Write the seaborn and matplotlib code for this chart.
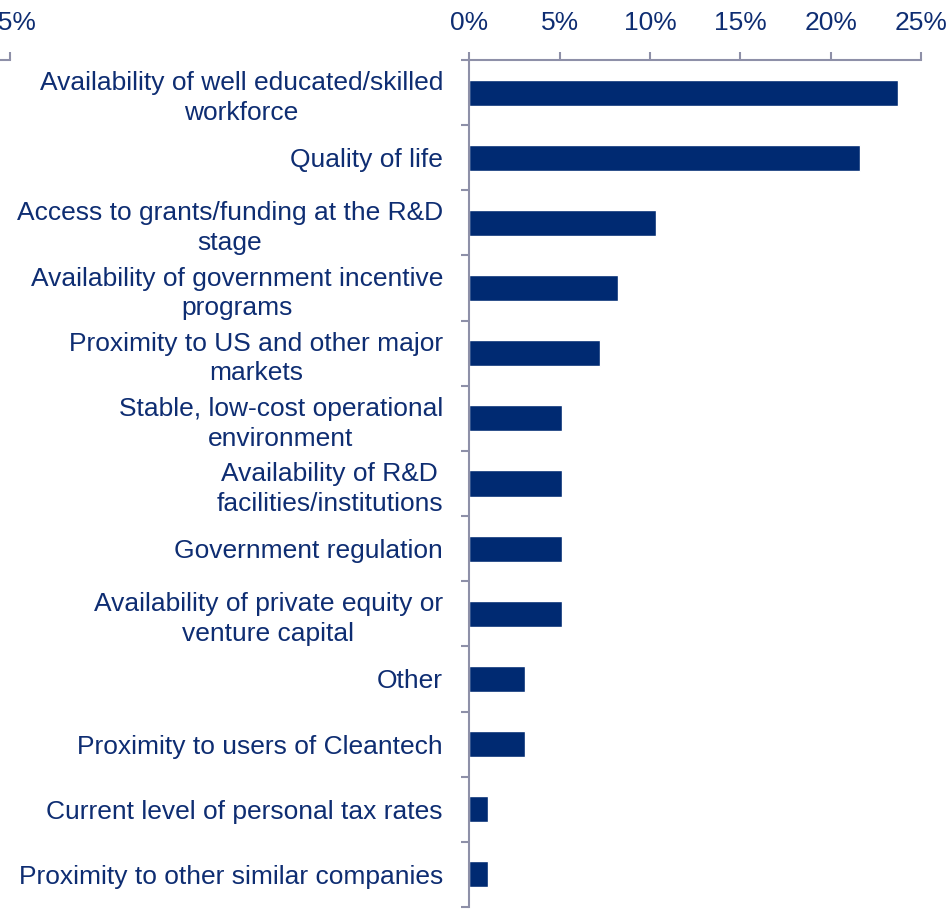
import matplotlib
matplotlib.use("Agg")
import matplotlib.pyplot as plt
from matplotlib.ticker import FuncFormatter, FixedLocator
import seaborn as sns
import pandas as pd

# Survey: most important location factors (share of responses)
factors = [
    "Availability of well educated/skilled\nworkforce",
    "Quality of life",
    "Access to grants/funding at the R&D\nstage",
    "Availability of government incentive\nprograms",
    "Proximity to US and other major\nmarkets",
    "Stable, low-cost operational\nenvironment",
    "Availability of R&D\nfacilities/institutions",
    "Government regulation",
    "Availability of private equity or\nventure capital",
    "Other",
    "Proximity to users of Cleantech",
    "Current level of personal tax rates",
    "Proximity to other similar companies",
]
shares = [23.71, 21.65, 10.31, 8.25, 7.22, 5.15, 5.15, 5.15, 5.15, 3.09, 3.09, 1.03, 1.03]
x_ticks = [0, 5, 10, 15, 20, 25]

NAVY = "#002A72"
TEXT = "#0E2D72"
AXIS = "#8E90A8"
FONT = "Liberation Sans"
FS = 19

sns.set_theme(style="white")
plt.rcParams["font.family"] = [FONT, "DejaVu Sans"]

W, H = 953, 919
fig = plt.figure(figsize=(W / 100, H / 100), dpi=100)

x0, x1 = 469.3, 921.0
y_top, y_bot = 60.0, 907.0
ax = fig.add_axes([x0 / W, (H - y_bot) / H, (x1 - x0) / W, (y_bot - y_top) / H])

df = pd.DataFrame({"factor": factors, "share": shares})
sns.barplot(data=df, y="factor", x="share", orient="h", color=NAVY,
            saturation=1, width=0.4, ax=ax)

ax.set_xlim(0, 25)
ax.set_ylim(len(factors) - 0.5, -0.5)
ax.set_xlabel("")
ax.set_ylabel("")

pct = FuncFormatter(lambda v, _: f"{v:.0f}%")
ax.xaxis.tick_top()
ax.xaxis.set_major_locator(FixedLocator(x_ticks))
ax.xaxis.set_major_formatter(pct)
ax.tick_params(axis="x", which="major", direction="out", length=6, width=1.5,
               color=AXIS, labelcolor=TEXT, labelsize=FS, pad=12)

# Category dividers on the y axis, labels centred between them
ax.yaxis.set_minor_locator(FixedLocator([i + 0.5 for i in range(-1, len(factors))]))
ax.tick_params(axis="y", which="major", length=0, pad=19, labelcolor=TEXT, labelsize=FS)
ax.tick_params(axis="y", which="minor", direction="out", length=6, width=1.5, color=AXIS, left=True)
for lab in ax.get_yticklabels():
    lab.set_multialignment("center")
    lab.set_linespacing(1.3)

for side in ("right", "bottom"):
    ax.spines[side].set_visible(False)
for side in ("top", "left"):
    ax.spines[side].set_color(AXIS)
    ax.spines[side].set_linewidth(1.5)

# Right edge of the neighbouring panel's top axis
edge = 10.0
w = (x1 - x0) / W
axn = fig.add_axes([edge / W - w, (H - y_bot) / H, w, (y_bot - y_top) / H])
axn.set_xlim(0, 25)
axn.set_ylim(0, 1)
axn.xaxis.tick_top()
axn.xaxis.set_major_locator(FixedLocator(x_ticks))
axn.xaxis.set_major_formatter(pct)
axn.tick_params(axis="x", direction="out", length=6, width=1.5, color=AXIS,
                labelcolor=TEXT, labelsize=FS, pad=12)
axn.set_yticks([])
for side in ("right", "bottom", "left"):
    axn.spines[side].set_visible(False)
axn.spines["top"].set_color(AXIS)
axn.spines["top"].set_linewidth(1.5)
axn.patch.set_alpha(0)

fig.savefig("out.png", dpi=100)
